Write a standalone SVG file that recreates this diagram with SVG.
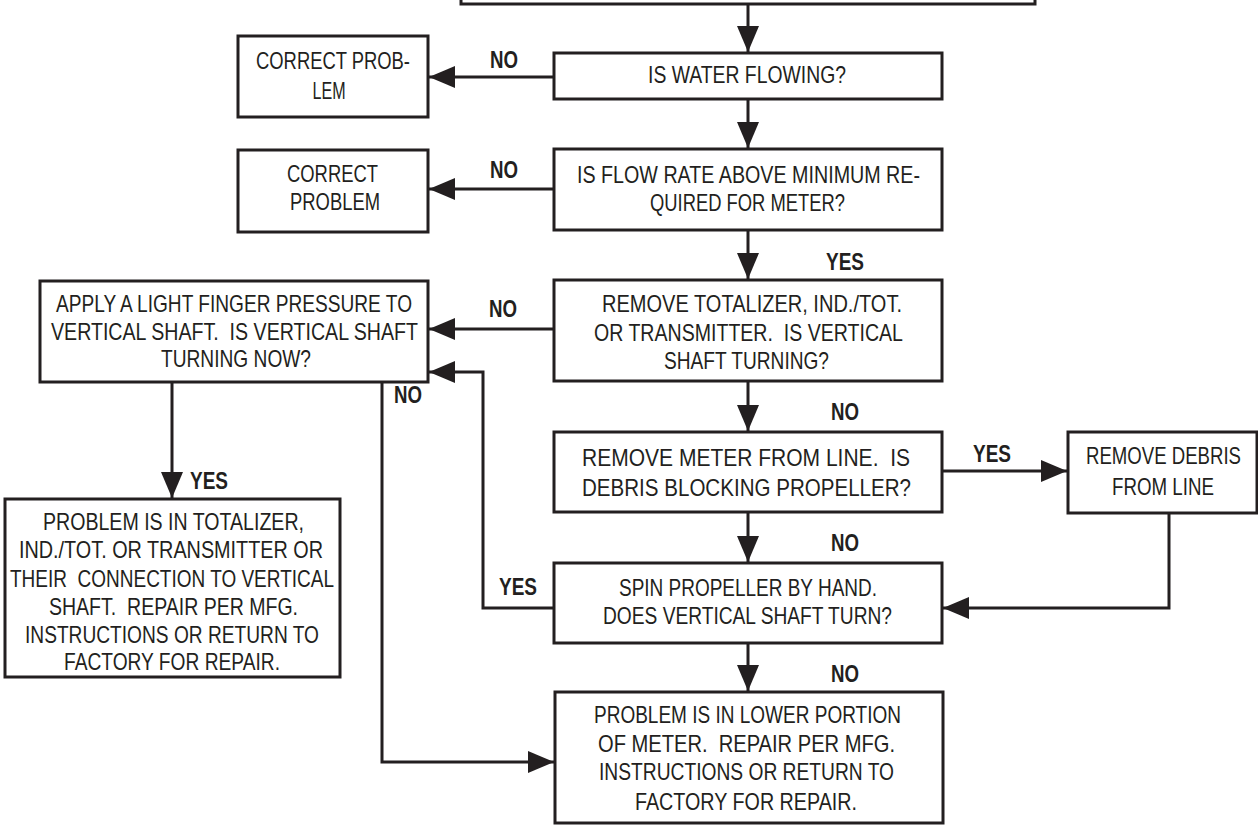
<svg xmlns="http://www.w3.org/2000/svg" width="1258" height="825" viewBox="0 0 1258 825">
<style>
.box{fill:#fff;stroke:#231f20;stroke-width:3}
.t{font-family:"Liberation Sans Narrow","Liberation Sans",Arial,sans-serif;font-size:24px;fill:#231f20;text-anchor:middle;white-space:pre}
.l{font-family:"Liberation Sans Narrow","Liberation Sans",Arial,sans-serif;font-size:24px;font-weight:bold;fill:#231f20;text-anchor:middle}
.c{fill:none;stroke:#231f20;stroke-width:3;marker-end:url(#ah)}
</style>
<defs>
<marker id="ah" markerUnits="userSpaceOnUse" viewBox="0 0 26 22" refX="26" refY="11" markerWidth="26" markerHeight="22" orient="auto">
<path d="M0,0 L26,11 L0,22 Z" fill="#231f20"/>
</marker>
</defs>
<g id="connectors">
<path class="c" d="M748,4 V52"/>
<path class="c" d="M554,77 H429"/>
<path class="c" d="M748,99 V148"/>
<path class="c" d="M554,189 H429"/>
<path class="c" d="M748,230 V279"/>
<path class="c" d="M554,329 H429"/>
<path class="c" d="M748,381 V431"/>
<path class="c" d="M942,471 H1067"/>
<path class="c" d="M748,512 V562"/>
<path class="c" d="M1169,513 V608 H943"/>
<path class="c" d="M554,608 H483 V372 H429"/>
<path class="c" d="M748,643 V691"/>
<path class="c" d="M382,382 V762 H554"/>
<path class="c" d="M172,382 V498"/>
</g>
<g id="labels">
<text class="l" x="504" y="68" textLength="28" lengthAdjust="spacingAndGlyphs">NO</text>
<text class="l" x="504" y="178" textLength="28" lengthAdjust="spacingAndGlyphs">NO</text>
<text class="l" x="503" y="317" textLength="28" lengthAdjust="spacingAndGlyphs">NO</text>
<text class="l" x="845" y="270" textLength="38" lengthAdjust="spacingAndGlyphs">YES</text>
<text class="l" x="845" y="420" textLength="28" lengthAdjust="spacingAndGlyphs">NO</text>
<text class="l" x="992" y="462" textLength="38" lengthAdjust="spacingAndGlyphs">YES</text>
<text class="l" x="845" y="551" textLength="28" lengthAdjust="spacingAndGlyphs">NO</text>
<text class="l" x="518" y="595" textLength="38" lengthAdjust="spacingAndGlyphs">YES</text>
<text class="l" x="845" y="682" textLength="28" lengthAdjust="spacingAndGlyphs">NO</text>
<text class="l" x="408" y="403" textLength="28" lengthAdjust="spacingAndGlyphs">NO</text>
<text class="l" x="209" y="489" textLength="38" lengthAdjust="spacingAndGlyphs">YES</text>
</g>
<g id="top">
<rect class="box" x="461" y="-20" width="574" height="24"/>
</g>
<g id="water">
<rect class="box" x="554" y="53" width="388" height="46"/>
<text class="t" x="747" y="83" textLength="198" lengthAdjust="spacingAndGlyphs">IS WATER FLOWING?</text>
</g>
<g id="correct1">
<rect class="box" x="238" y="36" width="190" height="81"/>
<text class="t" x="333" y="69" textLength="154" lengthAdjust="spacingAndGlyphs">CORRECT PROB-</text>
<text class="t" x="329" y="99" textLength="33" lengthAdjust="spacingAndGlyphs">LEM</text>
</g>
<g id="flowrate">
<rect class="box" x="554" y="149" width="388" height="81"/>
<text class="t" x="748.5" y="183" textLength="343" lengthAdjust="spacingAndGlyphs">IS FLOW RATE ABOVE MINIMUM RE-</text>
<text class="t" x="747.5" y="211" textLength="195" lengthAdjust="spacingAndGlyphs">QUIRED FOR METER?</text>
</g>
<g id="correct2">
<rect class="box" x="238" y="150" width="190" height="82"/>
<text class="t" x="332.5" y="182" textLength="91" lengthAdjust="spacingAndGlyphs">CORRECT</text>
<text class="t" x="335" y="210" textLength="90" lengthAdjust="spacingAndGlyphs">PROBLEM</text>
</g>
<g id="removetot">
<rect class="box" x="554" y="280" width="388" height="101"/>
<text class="t" x="752" y="312" textLength="300" lengthAdjust="spacingAndGlyphs">REMOVE TOTALIZER, IND./TOT.</text>
<text class="t" x="748.5" y="341" textLength="309" lengthAdjust="spacingAndGlyphs">OR TRANSMITTER.  IS VERTICAL</text>
<text class="t" x="746.5" y="369" textLength="165" lengthAdjust="spacingAndGlyphs">SHAFT TURNING?</text>
</g>
<g id="apply">
<rect class="box" x="40" y="281" width="388" height="101"/>
<text class="t" x="234" y="312" textLength="356" lengthAdjust="spacingAndGlyphs">APPLY A LIGHT FINGER PRESSURE TO</text>
<text class="t" x="234.5" y="340" textLength="367" lengthAdjust="spacingAndGlyphs">VERTICAL SHAFT.  IS VERTICAL SHAFT</text>
<text class="t" x="236" y="367" textLength="150" lengthAdjust="spacingAndGlyphs">TURNING NOW?</text>
</g>
<g id="removemeter">
<rect class="box" x="554" y="432" width="388" height="80"/>
<text class="t" x="746" y="466" textLength="328" lengthAdjust="spacingAndGlyphs">REMOVE METER FROM LINE.  IS</text>
<text class="t" x="746.5" y="496" textLength="329" lengthAdjust="spacingAndGlyphs">DEBRIS BLOCKING PROPELLER?</text>
</g>
<g id="debris">
<rect class="box" x="1068" y="432" width="189" height="81"/>
<text class="t" x="1163.5" y="464" textLength="155" lengthAdjust="spacingAndGlyphs">REMOVE DEBRIS</text>
<text class="t" x="1163" y="495" textLength="102" lengthAdjust="spacingAndGlyphs">FROM LINE</text>
</g>
<g id="spin">
<rect class="box" x="554" y="563" width="388" height="80"/>
<text class="t" x="748" y="596" textLength="258" lengthAdjust="spacingAndGlyphs">SPIN PROPELLER BY HAND.</text>
<text class="t" x="747.5" y="624" textLength="289" lengthAdjust="spacingAndGlyphs">DOES VERTICAL SHAFT TURN?</text>
</g>
<g id="lower">
<rect class="box" x="555" y="692" width="388" height="131"/>
<text class="t" x="747.5" y="723" textLength="307" lengthAdjust="spacingAndGlyphs">PROBLEM IS IN LOWER PORTION</text>
<text class="t" x="746.5" y="752" textLength="297" lengthAdjust="spacingAndGlyphs">OF METER.  REPAIR PER MFG.</text>
<text class="t" x="746.5" y="780" textLength="295" lengthAdjust="spacingAndGlyphs">INSTRUCTIONS OR RETURN TO</text>
<text class="t" x="746" y="810" textLength="222" lengthAdjust="spacingAndGlyphs">FACTORY FOR REPAIR.</text>
</g>
<g id="totalizer">
<rect class="box" x="5" y="499" width="335" height="178"/>
<text class="t" x="173.5" y="530" textLength="261" lengthAdjust="spacingAndGlyphs">PROBLEM IS IN TOTALIZER,</text>
<text class="t" x="171" y="558" textLength="304" lengthAdjust="spacingAndGlyphs">IND./TOT. OR TRANSMITTER OR</text>
<text class="t" x="172" y="587" textLength="324" lengthAdjust="spacingAndGlyphs">THEIR  CONNECTION TO VERTICAL</text>
<text class="t" x="173.5" y="615" textLength="249" lengthAdjust="spacingAndGlyphs">SHAFT.  REPAIR PER MFG.</text>
<text class="t" x="172" y="643" textLength="294" lengthAdjust="spacingAndGlyphs">INSTRUCTIONS OR RETURN TO</text>
<text class="t" x="172" y="670" textLength="216" lengthAdjust="spacingAndGlyphs">FACTORY FOR REPAIR.</text>
</g>
</svg>
